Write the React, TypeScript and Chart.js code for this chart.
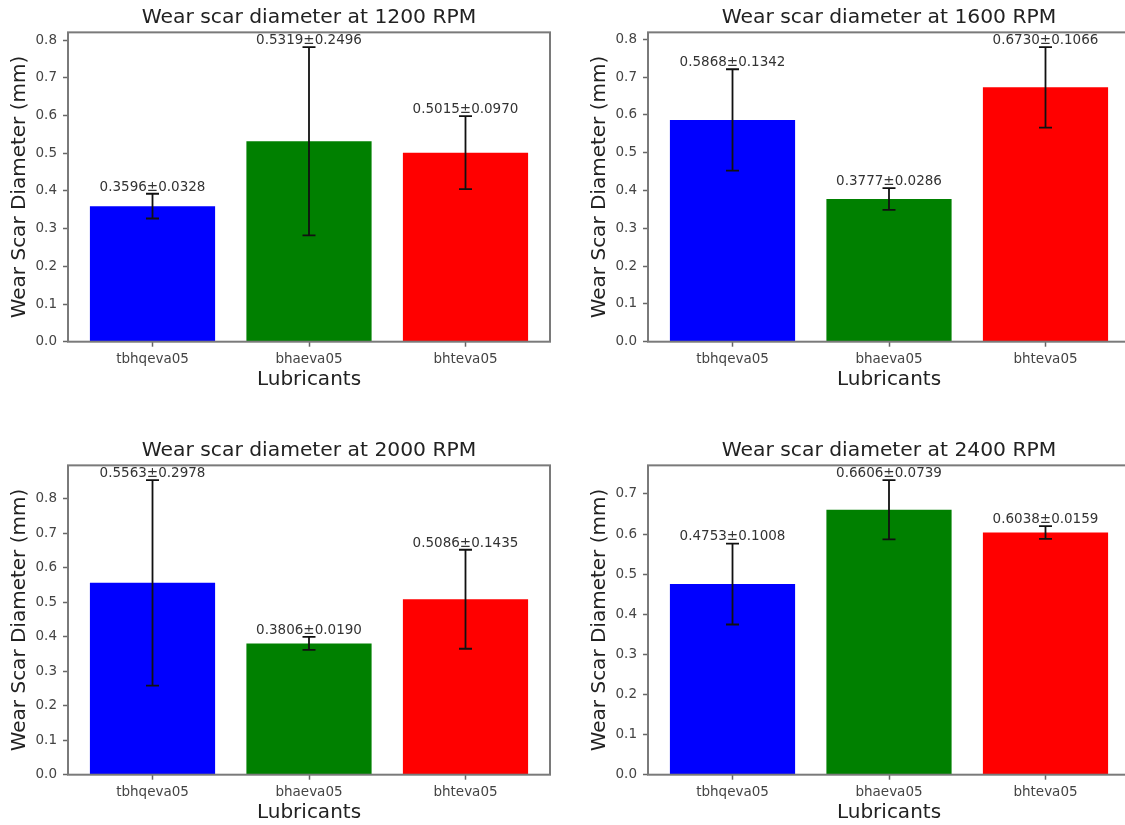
import React, { useEffect, useRef } from "react";
import { Chart, registerables } from "chart.js";

Chart.register(...registerables);

const categories = ["tbhqeva05", "bhaeva05", "bhteva05"];
const barColors = ["#0000ff", "#008000", "#ff0000"];

const title1200 = "Wear scar diameter at 1200 RPM";
const mean1200 = [0.3596, 0.5319, 0.5015];
const std1200 = [0.0328, 0.2496, 0.097];

const title1600 = "Wear scar diameter at 1600 RPM";
const mean1600 = [0.5868, 0.3777, 0.673];
const std1600 = [0.1342, 0.0286, 0.1066];

const title2000 = "Wear scar diameter at 2000 RPM";
const mean2000 = [0.5563, 0.3806, 0.5086];
const std2000 = [0.2978, 0.019, 0.1435];

const title2400 = "Wear scar diameter at 2400 RPM";
const mean2400 = [0.4753, 0.6606, 0.6038];
const std2400 = [0.1008, 0.0739, 0.0159];

const xAxisTitle = "Lubricants";
const yAxisTitle = "Wear Scar Diameter (mm)";

const FAMILY = "'DejaVu Sans', 'Liberation Sans', sans-serif";

type PanelProps = {
  title: string;
  means: number[];
  stds: number[];
  left: number;
  top: number;
};

function Panel({ title, means, stds, left, top }: PanelProps) {
  const ref = useRef<HTMLCanvasElement | null>(null);

  useEffect(() => {
    if (!ref.current) return;
    const yMax = Math.max(...means.map((m, i) => m + stds[i])) * 1.05;
    const lo = -0.4;
    const hi = categories.length - 1 + 0.4;
    const span = hi - lo;
    const xMin = lo - 0.05 * span;
    const xMax = hi + 0.05 * span;

    const errorPlugin = {
      id: "errbars",
      afterDatasetsDraw(chart: any) {
        const { ctx, chartArea, scales } = chart;
        const xs = scales.x;
        const ys = scales.y;
        ctx.save();
        means.forEach((m, i) => {
          const px = xs.getPixelForValue(i);
          const yt = ys.getPixelForValue(m + stds[i]);
          const yb = ys.getPixelForValue(m - stds[i]);
          ctx.strokeStyle = "#111111";
          ctx.lineWidth = 1.8;
          ctx.beginPath();
          ctx.moveTo(px, yt);
          ctx.lineTo(px, yb);
          ctx.moveTo(px - 6.5, yt);
          ctx.lineTo(px + 6.5, yt);
          ctx.moveTo(px - 6.5, yb);
          ctx.lineTo(px + 6.5, yb);
          ctx.stroke();
        });
        ctx.strokeStyle = "#7a7a7a";
        ctx.lineWidth = 2;
        ctx.strokeRect(chartArea.left, chartArea.top, chartArea.right - chartArea.left, chartArea.bottom - chartArea.top);
        means.forEach((m, i) => {
          const px = xs.getPixelForValue(i);
          const yt = ys.getPixelForValue(m + stds[i]);
          ctx.fillStyle = "#333333";
          ctx.font = `13.5px ${FAMILY}`;
          ctx.textAlign = "center";
          ctx.textBaseline = "bottom";
          ctx.fillText(`${m.toFixed(4)}±${stds[i].toFixed(4)}`, px, yt);
        });
        ctx.restore();
      },
    };

    const chart = new Chart(ref.current, {
      type: "bar",
      data: {
        datasets: [
          {
            data: means.map((m, i) => ({ x: i, y: m })),
            backgroundColor: barColors,
            borderWidth: 0,
            categoryPercentage: 0.8,
            barPercentage: 1,
          } as any,
        ],
      },
      options: {
        responsive: false,
        animation: false,
        events: [],
        layout: { padding: { left: 0, right: 20, top: 0, bottom: 0 } },
        plugins: {
          legend: { display: false },
          tooltip: { enabled: false },
          title: {
            display: true,
            fullSize: false,
            text: title,
            color: "#222222",
            font: { family: FAMILY, size: 20.3, weight: "normal" },
            padding: { top: 6, bottom: 2 },
          },
        },
        scales: {
          x: {
            type: "linear",
            min: xMin,
            max: xMax,
            offset: false,
            afterBuildTicks: (s: any) => {
              s.ticks = categories.map((_, i) => ({ value: i }));
            },
            afterFit: (s: any) => {
              s.height = 70.3;
            },
            grid: {
              display: true,
              drawOnChartArea: false,
              drawTicks: true,
              tickLength: 5,
              tickWidth: 1.5,
              tickColor: "#666666",
              offset: false,
            },
            border: { display: false },
            ticks: {
              callback: (v: any) => categories[Math.round(Number(v))] ?? "",
              color: "#444444",
              font: { family: FAMILY, size: 13.5 },
              padding: 5,
              maxRotation: 0,
              autoSkip: false,
            },
            title: {
              display: true,
              text: xAxisTitle,
              color: "#222222",
              font: { family: FAMILY, size: 20 },
              padding: { top: 0, bottom: 20.5 },
            },
          },
          y: {
            min: 0,
            max: yMax,
            afterFit: (s: any) => {
              s.width = 68;
            },
            grid: {
              display: true,
              drawOnChartArea: false,
              drawTicks: true,
              tickLength: 5,
              tickWidth: 1.5,
              tickColor: "#666666",
            },
            border: { display: false },
            ticks: {
              stepSize: 0.1,
              includeBounds: false,
              callback: (v: any) => Number(v).toFixed(1),
              color: "#444444",
              font: { family: FAMILY, size: 13.5 },
              padding: 6,
            },
            title: {
              display: true,
              text: yAxisTitle,
              color: "#222222",
              font: { family: FAMILY, size: 20 },
              padding: { top: 8, bottom: 0 },
            },
          },
        },
      } as any,
      plugins: [errorPlugin],
    });
    return () => chart.destroy();
  }, [title, means, stds]);

  return (
    <canvas
      ref={ref}
      width={570}
      height={412}
      style={{ position: "absolute", left, top, width: 570, height: 412 }}
    />
  );
}

export default function App() {
  return (
    <div
      style={{
        position: "fixed",
        left: 0,
        top: 0,
        width: 1125,
        height: 825,
        overflow: "hidden",
        background: "#ffffff",
      }}
    >
      <Panel title={title1200} means={mean1200} stds={std1200} left={0} top={0} />
      <Panel title={title1600} means={mean1600} stds={std1600} left={580} top={0} />
      <Panel title={title2000} means={mean2000} stds={std2000} left={0} top={433} />
      <Panel title={title2400} means={mean2400} stds={std2400} left={580} top={433} />
    </div>
  );
}
